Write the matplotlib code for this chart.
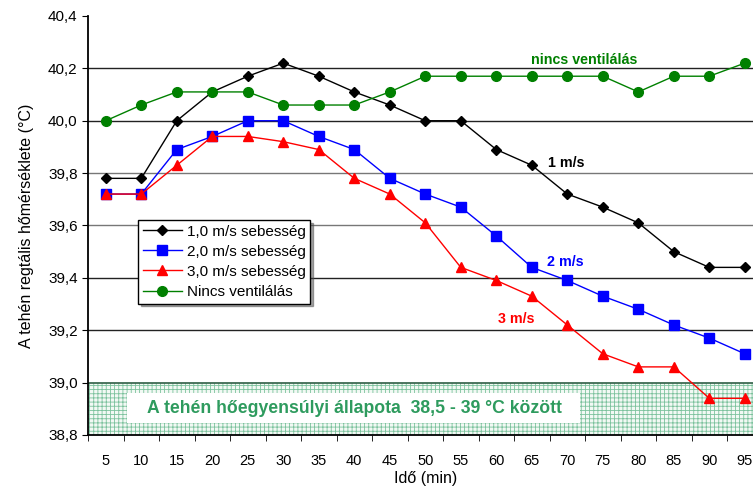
import matplotlib
matplotlib.use("Agg")
import matplotlib.pyplot as plt
from matplotlib.ticker import FuncFormatter, FixedLocator
from matplotlib.patches import Rectangle
import numpy as np

plt.rcParams['font.family'] = ['Liberation Sans', 'DejaVu Sans']
plt.rcParams['hatch.linewidth'] = 0.6

# data
ido = [5, 10, 15, 20, 25, 30, 35, 40, 45, 50, 55, 60, 65, 70, 75, 80, 85, 90, 95]
v1 = [39.78, 39.78, 40.00, 40.11, 40.17, 40.22, 40.17, 40.11, 40.06, 40.00,
      40.00, 39.89, 39.83, 39.72, 39.67, 39.61, 39.50, 39.44, 39.44]
v2 = [39.72, 39.72, 39.89, 39.94, 40.00, 40.00, 39.94, 39.89, 39.78, 39.72,
      39.67, 39.56, 39.44, 39.39, 39.33, 39.28, 39.22, 39.17, 39.11]
v3 = [39.72, 39.72, 39.83, 39.94, 39.94, 39.92, 39.89, 39.78, 39.72, 39.61,
      39.44, 39.39, 39.33, 39.22, 39.11, 39.06, 39.06, 38.94, 38.94]
nincs = [40.00, 40.06, 40.11, 40.11, 40.11, 40.06, 40.06, 40.06, 40.11, 40.17,
         40.17, 40.17, 40.17, 40.17, 40.17, 40.11, 40.17, 40.17, 40.22]

fig = plt.figure(figsize=(7.53, 4.92), dpi=100)
ax = fig.add_axes([0.1169, 0.1159, 0.8958, 0.8516])

x = np.arange(len(ido))
ax.set_xlim(-0.5, len(ido) - 0.5)
ax.set_ylim(38.8, 40.4)

# comfort zone (38,8 - 39,0)
ax.fill_between([-0.5, len(ido) - 0.5], 38.8, 39.0, facecolor='#f2f9f4',
                edgecolor='#7cc29d', hatch='++++', linewidth=0, zorder=1)
ax.axhline(39.0, color='#2f5f45', lw=1.2, zorder=2)

for yv in [39.2, 39.4, 39.6, 39.8, 40.0, 40.2]:
    ax.axhline(yv, color='#222222' if yv not in (39.6, 39.8) else '#777777', lw=1.0, zorder=2)

ax.plot(x, v1, color='black', marker='D', ms=5, lw=1, label='1,0 m/s sebesség', zorder=4)
ax.plot(x, v2, color='#0000ff', marker='s', ms=7, lw=1, label='2,0 m/s sebesség', zorder=4)
ax.plot(x, v3, color='#ff0000', marker='^', ms=7, lw=1, label='3,0 m/s sebesség', zorder=5)
ax.plot(x, nincs, color='#008000', marker='o', ms=7, lw=1, label='Nincs ventilálás', zorder=4)

ax.add_patch(Rectangle((0.61, 38.847), 12.74, 0.112, facecolor='white',
                       edgecolor='none', zorder=6))
ax.text(1.15, 38.903, 'A tehén hőegyensúlyi állapota  38,5 - 39 °C között',
        color='#2e9b5e', fontsize=12.7, fontweight='bold', ha='left', va='center',
        zorder=7)

ax.text(13.48, 40.232, 'nincs ventilálás', color='#008000', fontsize=10.3,
        fontweight='bold', ha='center', va='center')
ax.text(12.97, 39.84, '1 m/s', color='black', fontsize=10.3, fontweight='bold',
        ha='center', va='center')
ax.text(12.95, 39.461, '2 m/s', color='#0000ff', fontsize=10.3, fontweight='bold',
        ha='center', va='center')
ax.text(11.56, 39.243, '3 m/s', color='#ff0000', fontsize=10.3, fontweight='bold',
        ha='center', va='center')

leg = ax.legend(loc='upper left', bbox_to_anchor=(0.074, 0.513), fontsize=11,
                frameon=True, fancybox=False, shadow=True, borderpad=0.3,
                labelspacing=0.4, handlelength=2.6, handletextpad=0.3,
                borderaxespad=0)
leg.get_frame().set_edgecolor('black')
leg.get_frame().set_linewidth(1)
leg.set_zorder(8)

ax.set_xticks(x)
ax.set_xticklabels([str(v) for v in ido], fontsize=10.5)
ax.xaxis.set_minor_locator(FixedLocator(np.arange(-0.5, len(ido), 1.0)))
ax.tick_params(axis='x', which='major', length=0, pad=14)
ax.tick_params(axis='x', which='minor', length=4, direction='out')
ax.set_yticks(np.arange(38.8, 40.41, 0.2))
ax.yaxis.set_major_formatter(FuncFormatter(lambda v, p: f'{v:.1f}'.replace('.', ',')))
ax.tick_params(axis='y', labelsize=11, length=4, direction='out')

for s in ['top', 'right']:
    ax.spines[s].set_visible(False)
ax.spines['left'].set_linewidth(1.3)
ax.spines['bottom'].set_linewidth(1.3)

ax.set_xlabel('Idő (min)', fontsize=11.5, labelpad=2)
ax.set_ylabel('A tehén regtális hőmérséklete (°C)', fontsize=11.5, labelpad=10)

fig.savefig('out.png', dpi=100)
